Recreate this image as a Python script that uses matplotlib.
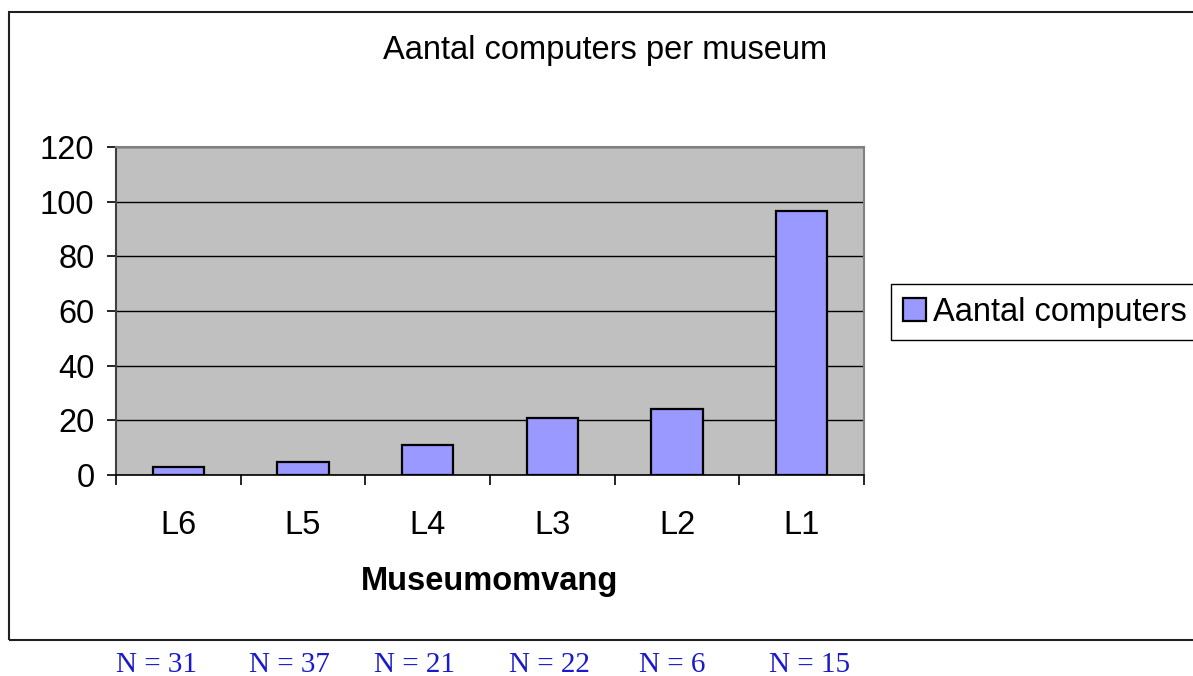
import matplotlib
matplotlib.use("Agg")
import matplotlib.pyplot as plt
from matplotlib.patches import Rectangle
import numpy as np

categories = ["L6", "L5", "L4", "L3", "L2", "L1"]
values = [3, 4.6, 11, 21, 24, 96.5]
n_labels = ["N = 31", "N = 37", "N = 21", "N = 22", "N = 6", "N = 15"]
series_name = "Aantal computers"
title = "Aantal computers per museum"
xlabel = "Museumomvang"
yticks = [0, 20, 40, 60, 80, 100, 120]

W, H = 1193, 676
fig = plt.figure(figsize=(W / 100, H / 100), dpi=100)
plt.rcParams['font.family'] = ['Liberation Sans', 'DejaVu Sans']
FS = 23.5

def fx(px):
    return px / W

def fy(py):
    return 1 - py / H

# outer chart frame
fig.patches.append(Rectangle((fx(9), fy(640)), 1.2, fy(12) - fy(640),
                             transform=fig.transFigure, fill=False,
                             edgecolor="#202020", linewidth=1.5, zorder=0))

ax = fig.add_axes([fx(116), fy(475), fx(864) - fx(116), fy(147) - fy(475)])
ax.set_facecolor("#C0C0C0")
x = np.arange(len(categories))
bars = ax.bar(x, values, width=0.41, color="#9999FF", edgecolor="black",
              linewidth=1.6, zorder=3, label=series_name)
ax.set_xlim(-0.5, len(categories) - 0.5)
ax.set_ylim(0, 120)
ax.set_yticks(yticks)
ax.set_yticklabels([str(v) for v in yticks], fontsize=FS)
ax.yaxis.grid(True, color="black", linewidth=1.0, zorder=1)
ax.set_axisbelow(True)
ax.set_xticks(x)
ax.set_xticklabels(categories, fontsize=FS)
ax.tick_params(axis='x', which='major', length=0, pad=25)
ax.set_xticks(np.arange(len(categories) + 1) - 0.5, minor=True)
ax.tick_params(axis='x', which='minor', length=7, width=1.2, color="black", direction='out')
ax.tick_params(axis='y', which='major', length=6.5, width=1.2, direction='out', pad=9)
for side in ["top", "right"]:
    ax.spines[side].set_color("#808080")
    ax.spines[side].set_linewidth(1.5)
ax.spines["left"].set_color("#404040")
ax.spines["left"].set_linewidth(1.5)
ax.spines["bottom"].set_color("black")
ax.spines["bottom"].set_linewidth(1.2)
ax.set_xlabel(xlabel, fontsize=FS, fontweight="bold", labelpad=18)

fig.text(fx(605), fy(50), title, fontsize=FS, ha="center", va="center")

leg = fig.legend(handles=[bars], labels=[series_name], loc="center left",
                 bbox_to_anchor=(fx(891), fy(312)), fontsize=FS,
                 fancybox=False, edgecolor="black", framealpha=1,
                 handlelength=0.7, handleheight=0.7, handletextpad=0.2,
                 borderpad=0.38, borderaxespad=0)
leg.get_frame().set_linewidth(1.0)

n_x = [157, 289, 414, 549, 672, 810]
for px, lab in zip(n_x, n_labels):
    fig.text(fx(px), fy(665), lab, fontsize=21, ha="center", va="center",
             color="#1a1acc", family=["Liberation Serif", "DejaVu Serif"],
             fontstretch="condensed")

fig.savefig("out.png", dpi=100)
